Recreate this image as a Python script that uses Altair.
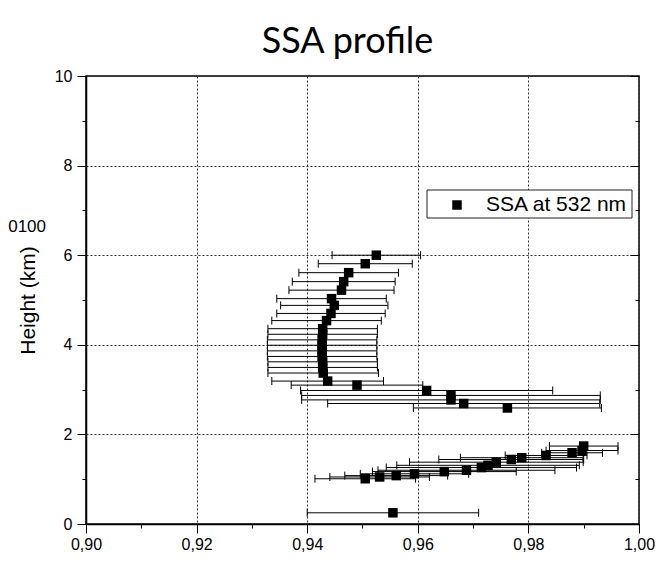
import altair as alt
import pandas as pd

# ---- data ----
heights = [0.25, 1.01, 1.05, 1.08, 1.12, 1.17, 1.20, 1.26, 1.31, 1.38, 1.44, 1.48, 1.53, 1.59, 1.64, 1.74,
           2.59, 2.69, 2.77, 2.87, 2.98, 3.10, 3.19,
           3.37, 3.495, 3.62, 3.74, 3.865, 3.99, 4.11, 4.235, 4.36,
           4.54, 4.70, 4.88, 5.03, 5.22, 5.41, 5.61, 5.81, 6.00]
ssa = [0.9555, 0.9505, 0.9531, 0.9561, 0.9594, 0.9648, 0.9688, 0.9715, 0.9727, 0.9742, 0.9769, 0.9788, 0.9832, 0.9879, 0.9897, 0.9900,
       0.9762, 0.9683, 0.9660, 0.9660, 0.9616, 0.9490, 0.9437,
       0.9429, 0.9428, 0.9428, 0.9427, 0.9427, 0.9427, 0.9427, 0.9428, 0.9428,
       0.9435, 0.9443, 0.9449, 0.9444, 0.9462, 0.9466, 0.9475, 0.9505, 0.9525]
err = [0.0155, 0.0091, 0.0090, 0.0093, 0.0098, 0.0130, 0.0160, 0.0172, 0.0165, 0.0157, 0.0131, 0.0111, 0.0074, 0.0055, 0.0065, 0.0062,
       0.0170, 0.0246, 0.0270, 0.0270, 0.0228, 0.0119, 0.0101,
       0.0100, 0.0099, 0.0099, 0.0099, 0.0099, 0.0099, 0.0099, 0.0099, 0.0099,
       0.0099, 0.0098, 0.0097, 0.0099, 0.0095, 0.0093, 0.0090, 0.0085, 0.0080]

x_ticks = [0.90, 0.91, 0.92, 0.93, 0.94, 0.95, 0.96, 0.97, 0.98, 0.99, 1.00]
y_ticks = [0, 1, 2, 3, 4, 5, 6, 7, 8, 9, 10]

series_label = ["SSA at 532 nm"]
stray_label = ["0100"]

df = pd.DataFrame({"height": heights, "ssa": ssa, "err": err})
df["lo"] = df["ssa"] - df["err"]
df["hi"] = df["ssa"] + df["err"]

FONT = "Liberation Sans"
W, H = 553, 448
major_x = "round(datum.value*100) % 2 == 0"
major_y = "round(datum.value) % 2 == 0"

xscale = alt.Scale(domain=[0.90, 1.00], nice=False, zero=False)
yscale = alt.Scale(domain=[0, 10], nice=False, zero=False)

xaxis = alt.Axis(
    values=x_ticks, title=None, orient="bottom",
    labelExpr=f"{major_x} ? format(datum.value, '.2f') : ''",
    labelFont=FONT, labelFontSize=16, labelColor="black", labelPadding=3,
    labelOverlap=False, labelFlush=False, labelBound=False,
    tickSize={"condition": {"test": major_x, "value": 9}, "value": 4},
    tickColor="black", tickWidth=1, domainColor="black", domainWidth=1.5,
    grid=True, gridColor="#333333", gridDash=[2, 2], gridWidth=1,
    gridOpacity={"condition": {"test": major_x, "value": 1}, "value": 0},
)

yaxis = alt.Axis(
    values=y_ticks, orient="left", title="Height  (km)",
    titleFont=FONT, titleFontSize=21, titleFontWeight="normal", titleColor="black",
    titlePadding=16,
    labelExpr=f"{major_y} ? datum.label : ''",
    labelFont=FONT, labelFontSize=16, labelColor="black", labelPadding=5,
    labelOverlap=False, labelFlush=False, labelBound=False,
    tickSize={"condition": {"test": major_y, "value": 9}, "value": 4},
    tickColor="black", tickWidth=1, domainColor="black", domainWidth=1.5,
    grid=True, gridColor="#333333", gridDash=[2, 2], gridWidth=1,
    gridOpacity={"condition": {"test": major_y, "value": 1}, "value": 0},
)

right_axis = alt.Axis(
    values=y_ticks, orient="left", offset=-W, title=None, labels=False,
    domain=False, grid=False,
    tickSize={"condition": {"test": major_y, "value": 9}, "value": 4},
    tickColor="black", tickWidth=1,
)

base = alt.Chart(df)

bars = base.mark_rule(color="black", strokeWidth=1).encode(
    x=alt.X("lo:Q", scale=xscale, axis=xaxis),
    x2="hi:Q",
    y=alt.Y("height:Q", scale=yscale, axis=right_axis),
)
cap_lo = base.mark_rule(color="black", strokeWidth=1, yOffset=-4, y2Offset=4).encode(
    x=alt.X("lo:Q", scale=xscale, axis=xaxis),
    y=alt.Y("height:Q", scale=yscale, axis=None),
    y2="height:Q",
)
cap_hi = base.mark_rule(color="black", strokeWidth=1, yOffset=-4, y2Offset=4).encode(
    x=alt.X("hi:Q", scale=xscale, axis=xaxis),
    y=alt.Y("height:Q", scale=yscale, axis=None),
    y2="height:Q",
)
pts = base.mark_square(size=90, color="black", opacity=1).encode(
    x=alt.X("ssa:Q", scale=xscale, axis=xaxis),
    y=alt.Y("height:Q", scale=yscale, axis=yaxis),
)

leg_df = pd.DataFrame({"label": series_label})
leg_box = alt.Chart(leg_df).mark_rect(fill="white", stroke="#222222", strokeWidth=1).encode(
    x=alt.value(341), x2=alt.value(546), y=alt.value(114), y2=alt.value(142)
)
leg_sym = alt.Chart(leg_df).mark_square(size=90, color="black", opacity=1).encode(
    x=alt.value(371), y=alt.value(129)
)
leg_txt = alt.Chart(leg_df).mark_text(
    align="left", baseline="alphabetic", font=FONT, fontSize=21, color="black"
).encode(x=alt.value(400), y=alt.value(135), text="label:N")

stray_df = pd.DataFrame({"t": stray_label})
stray = alt.Chart(stray_df).mark_text(
    align="right", baseline="alphabetic", font=FONT, fontSize=17, color="black"
).encode(x=alt.value(-40), y=alt.value(156), text="t:N")

chart = (
    alt.layer(bars, cap_lo, cap_hi, pts, leg_box, leg_sym, leg_txt, stray)
    .resolve_axis(y="independent")
    .properties(
        width=W, height=H,
        padding={"left": 78, "top": 68, "right": 16, "bottom": 31},
        autosize=alt.AutoSizeParams(type="none"),
        background="white",
        title=alt.TitleParams(
            "SSA profile", font="Lato", fontSize=36, fontWeight="normal",
            color="black", anchor="middle", frame="group", offset=7, dx=-15,
        ),
    )
    .configure(locale={"number": {"decimal": ",", "thousands": ".", "grouping": [3], "currency": ["", " €"]}})
    .configure_view(stroke="black", strokeWidth=1.5)
)

chart.save("out.html", embed_options={"renderer": "svg", "actions": False})
